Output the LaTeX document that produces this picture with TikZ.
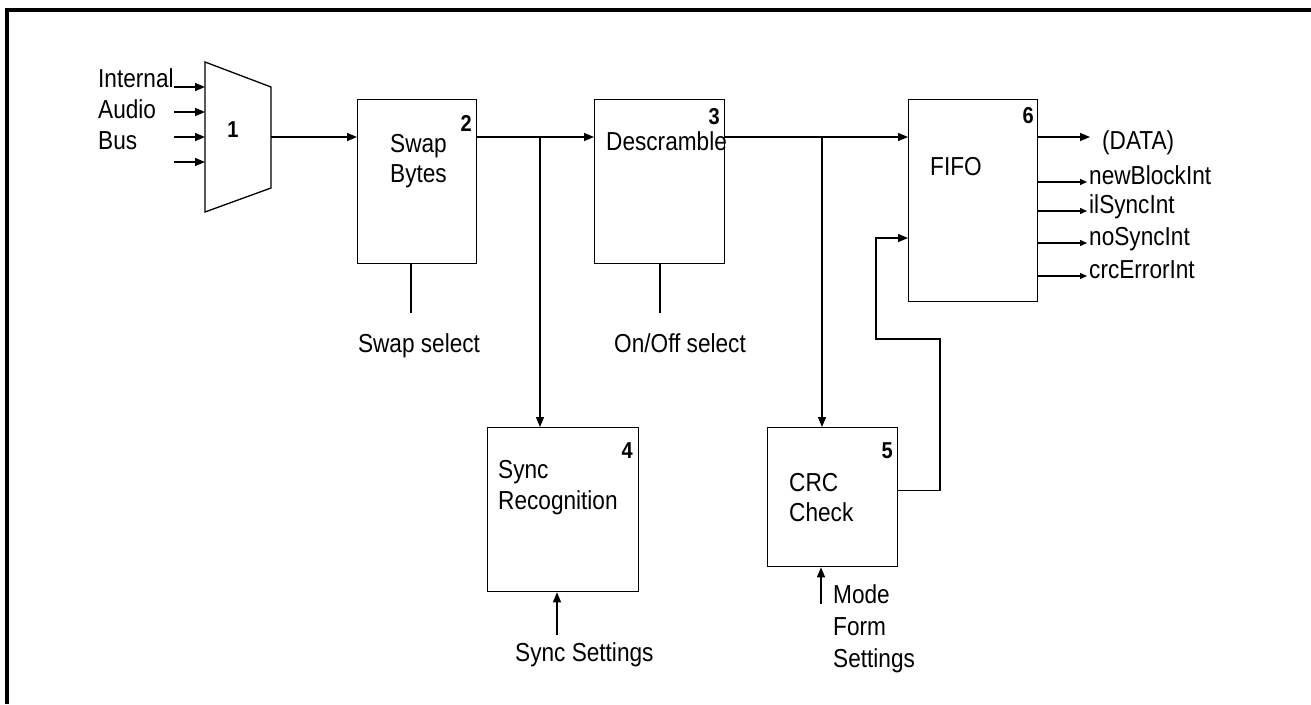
\documentclass[tikz,border=0pt]{standalone}
\usepackage{fontspec}
\setmainfont{Liberation Sans}[FakeStretch=0.87]
\usetikzlibrary{arrows.meta}
\begin{document}
\begin{tikzpicture}[x=1pt,y=-1pt,
  wire/.style={line width=1.3pt},
  arr/.style={wire,-{Triangle[length=10pt,width=8pt]}},
  sarr/.style={wire,-{Triangle[length=7pt,width=6pt]}},
  blk/.style={draw,line width=1.3pt,inner sep=0pt,anchor=north west},
  lbl/.style={inner sep=0pt,anchor=base west,font=\fontsize{26}{30}\selectfont},
  num/.style={inner sep=0pt,anchor=base east,font=\fontsize{23}{26}\selectfont\bfseries}]
\useasboundingbox (0,0) rectangle (1311,704);
% frame
\draw[line width=4pt] (6.5,704) -- (6.5,9.5) -- (1311,9.5);

% multiplexer
\draw[wire] (205,62) -- (271,87) -- (271,188) -- (205,212) -- cycle;
\node[num,anchor=base] (n1) at (233,137) {1};
\coordinate (m1) at (205,87);
\coordinate (m2) at (205,112);
\coordinate (m3) at (205,137);
\coordinate (m4) at (205,162);
\coordinate (muxout) at (271,137);
\foreach \i in {1,...,4} {\coordinate (in\i) at (174,0 |- m\i); \draw[arr] (in\i) -- (m\i);}
\node[lbl] (tInt) at (98,87) {Internal};
\node[lbl] (tAud) at (98,118) {Audio};
\node[lbl] (tBus) at (98,149) {Bus};

% blocks
\node[blk,minimum width=119pt,minimum height=164pt] (b2) at (357,99) {};
\node[blk,minimum width=130pt,minimum height=164pt] (b3) at (594,99) {};
\node[blk,minimum width=129pt,minimum height=202pt] (b6) at (908,99) {};
\node[blk,minimum width=151pt,minimum height=164pt] (b4) at (487,427) {};
\node[blk,minimum width=130pt,minimum height=139pt] (b5) at (767,427) {};

\node[num] (n2) at (472,131) {2};
\node[num] (n3) at (720,124) {3};
\node[num] (n6) at (1034,123) {6};
\node[num] (n4) at (633,458) {4};
\node[num] (n5) at (893,458) {5};

\node[lbl] (tSwap) at (390,152) {Swap};
\node[lbl] (tBytes) at (390,182) {Bytes};
\node[lbl] (tDes) at (606,150) {Descramble};
\node[lbl] (tFifo) at (930,175) {FIFO};
\node[lbl] (tSync) at (498,478) {Sync};
\node[lbl] (tRec) at (498,509) {Recognition};
\node[lbl] (tCrc) at (789,491) {CRC};
\node[lbl] (tChk) at (789,521) {Check};

% main path
\coordinate (j1) at (540,137);
\coordinate (j2) at (822,137);
\draw[arr] (muxout) -- (muxout -| b2.west);
\draw[arr] (b2.east |- j1) -- (j1 -| b3.west);
\draw[arr] (j1) -- (j1 |- b4.north);
\draw[arr] (b3.east |- j2) -- (j2 -| b6.west);
\draw[arr] (j2) -- (j2 |- b5.north);

% selects
\coordinate (ss) at (411,313);
\draw[wire] (b2.south -| ss) -- (ss);
\node[lbl,anchor=base] (tSs) at (419,352) {Swap select};
\coordinate (os) at (660,313);
\draw[wire] (b3.south -| os) -- (os);
\node[lbl,anchor=base] (tOs) at (680,352) {On/Off select};

% settings
\coordinate (sset) at (557,635);
\draw[arr] (sset) -- (sset |- b4.south);
\node[lbl] (tSset) at (515,661) {Sync Settings};
\coordinate (mset) at (821,604);
\draw[arr] (mset) -- (mset |- b5.south);
\node[lbl] (tMode) at (833,603) {Mode};
\node[lbl] (tForm) at (833,635) {Form};
\node[lbl] (tSett) at (833,667) {Settings};

% feedback
\coordinate (fbR) at (940,339);
\coordinate (fbL) at (876,238);
\draw[arr] ([yshift=6.5pt]b5.east) -| (fbR) -| (fbL) -- (fbL -| b6.west);

% outputs
\coordinate (dEnd) at (1090,137);
\draw[arr] (dEnd -| b6.east) -- (dEnd);
\node[lbl] (tData) at (1102,149) {(DATA)};
\coordinate (o1) at (1087,182);
\coordinate (o2) at (1087,211);
\coordinate (o3) at (1087,243);
\coordinate (o4) at (1087,276);
\foreach \i/\t in {1/newBlockInt,2/ilSyncInt,3/noSyncInt,4/crcErrorInt} {
  \draw[sarr] (o\i -| b6.east) -- (o\i);
  \node[lbl,anchor=mid west,xshift=2pt] (to\i) at (o\i) {\t};
}
\end{tikzpicture}
\end{document}
